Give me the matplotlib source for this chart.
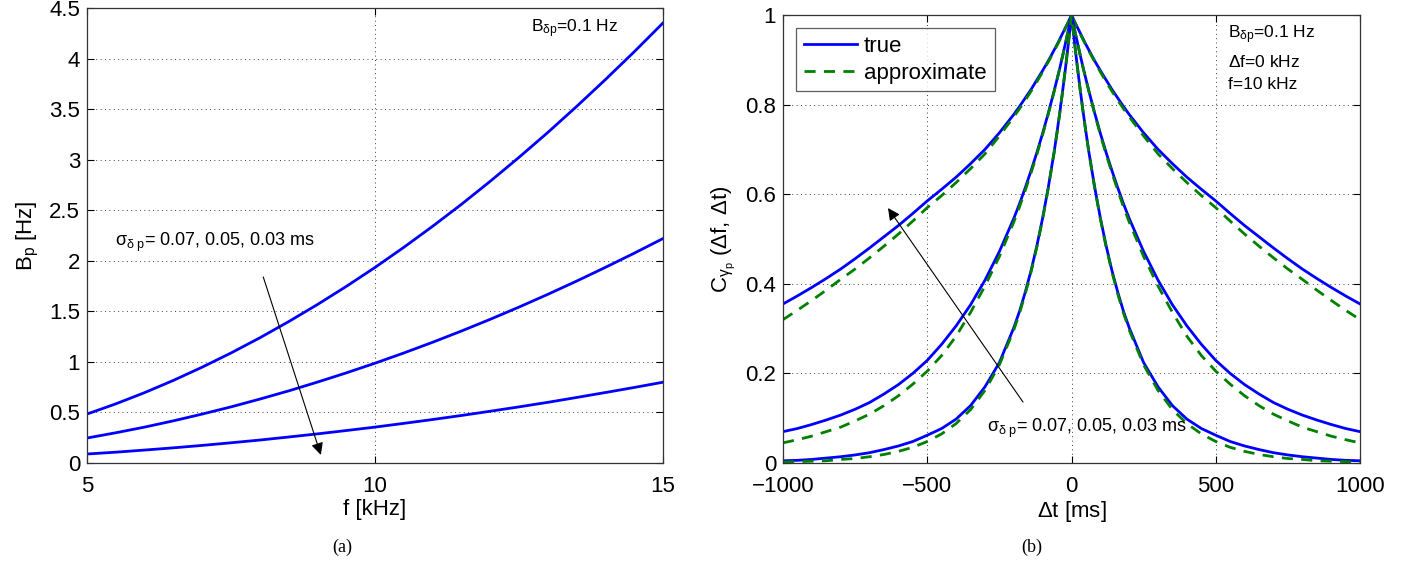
import matplotlib
matplotlib.use('Agg')
import matplotlib.pyplot as plt
import numpy as np

plt.rcParams['font.family'] = ['Liberation Sans', 'DejaVu Sans']
plt.rcParams['mathtext.fontset'] = 'custom'
plt.rcParams['mathtext.rm'] = 'Liberation Sans'
plt.rcParams['mathtext.it'] = 'Liberation Sans'
plt.rcParams['mathtext.default'] = 'regular'

# ---- (a) B_p vs f, sigma = 0.07, 0.05, 0.03 ms ----
f_khz = [5, 5.5, 6, 6.5, 7, 7.5, 8, 8.5, 9, 9.5, 10,
         10.5, 11, 11.5, 12, 12.5, 13, 13.5, 14, 14.5, 15]
bp_007 = [0.484, 0.585, 0.696, 0.817, 0.948, 1.088, 1.238, 1.398, 1.567, 1.746, 1.934,
          2.133, 2.341, 2.558, 2.786, 3.023, 3.269, 3.526, 3.792, 4.067, 4.352]
bp_005 = [0.247, 0.299, 0.355, 0.417, 0.484, 0.555, 0.632, 0.713, 0.800, 0.891, 0.987,
          1.088, 1.194, 1.305, 1.421, 1.542, 1.668, 1.799, 1.935, 2.075, 2.220]
bp_003 = [0.089, 0.107, 0.128, 0.150, 0.174, 0.200, 0.227, 0.257, 0.288, 0.321, 0.355,
          0.392, 0.430, 0.470, 0.512, 0.555, 0.600, 0.648, 0.697, 0.747, 0.799]

# ---- (b) correlation vs delta t (values for dt >= 0, curves are symmetric) ----
dt_ms = [0, 10, 20, 30, 40, 50, 60, 80, 100, 120, 140, 160, 180, 200,
         250, 300, 350, 400, 450, 500, 550, 600, 650, 700, 750, 800, 850, 900, 950, 1000]
true_003 = [1, 0.986, 0.973, 0.960, 0.947, 0.934, 0.922, 0.898, 0.876, 0.855, 0.834,
            0.815, 0.796, 0.778, 0.737, 0.700, 0.668, 0.638, 0.611, 0.585,
            0.557, 0.530, 0.505, 0.480, 0.456, 0.433, 0.412, 0.392, 0.373, 0.355]
appr_003 = [1, 0.986, 0.972, 0.958, 0.945, 0.932, 0.920, 0.896, 0.873, 0.851, 0.830,
            0.810, 0.791, 0.773, 0.730, 0.690, 0.657, 0.626, 0.597, 0.570,
            0.540, 0.511, 0.484, 0.458, 0.433, 0.410, 0.386, 0.363, 0.341, 0.320]
true_005 = [1, 0.969, 0.940, 0.911, 0.883, 0.857, 0.831, 0.782, 0.736, 0.693, 0.653,
            0.615, 0.579, 0.546, 0.472, 0.408, 0.353, 0.306, 0.265, 0.229,
            0.200, 0.175, 0.154, 0.135, 0.120, 0.107, 0.096, 0.086, 0.077, 0.070]
appr_005 = [1, 0.969, 0.940, 0.911, 0.883, 0.856, 0.830, 0.780, 0.733, 0.689, 0.648,
            0.609, 0.572, 0.538, 0.461, 0.395, 0.336, 0.283, 0.240, 0.205,
            0.176, 0.150, 0.128, 0.109, 0.094, 0.080, 0.070, 0.060, 0.052, 0.045]
true_007 = [1, 0.941, 0.886, 0.834, 0.785, 0.739, 0.695, 0.617, 0.547, 0.485, 0.430,
            0.382, 0.339, 0.302, 0.224, 0.170, 0.128, 0.098, 0.077, 0.062,
            0.048, 0.038, 0.030, 0.023, 0.018, 0.014, 0.011, 0.008, 0.006, 0.005]
appr_007 = [1, 0.941, 0.886, 0.833, 0.784, 0.738, 0.694, 0.615, 0.545, 0.482, 0.427,
            0.378, 0.335, 0.297, 0.219, 0.162, 0.119, 0.088, 0.065, 0.048,
            0.035, 0.026, 0.019, 0.014, 0.010, 0.008, 0.005, 0.004, 0.003, 0.002]


def mirror(x, y):
    x = np.asarray(x, float)
    y = np.asarray(y, float)
    return np.concatenate([-x[::-1], x[1:]]), np.concatenate([y[::-1], y[1:]])


BLUE = (0, 0, 1)
GREEN = (0, 0.5, 0)
TICK_FS = 16


def style_axes(ax):
    ax.grid(True, color='0.25', linestyle=(0, (1, 3.5)), linewidth=0.7)
    ax.tick_params(direction='in', top=True, right=True, length=5, width=0.8,
                   labelsize=TICK_FS)
    ax.tick_params(axis='x', pad=9)
    ax.tick_params(axis='y', pad=5)
    for s in ax.spines.values():
        s.set_color('0.2')
        s.set_linewidth(0.9)


fig = plt.figure(figsize=(14.19, 5.62), dpi=100)

# ---------- left panel ----------
ax1 = fig.add_axes([87 / 1419, 99 / 562, 576 / 1419, 455 / 562])
for ys in (bp_007, bp_005, bp_003):
    ax1.plot(f_khz, ys, color=BLUE, linewidth=2.0)
ax1.set_xlim(5, 15)
ax1.set_ylim(0, 4.5)
ax1.set_xticks([5, 10, 15])
ax1.set_yticks(np.arange(0, 4.51, 0.5))
ax1.set_yticklabels(['0', '0.5', '1', '1.5', '2', '2.5', '3', '3.5', '4', '4.5'])
style_axes(ax1)
ax1.set_xlabel('f [kHz]', fontsize=16, labelpad=2)
ax1.set_ylabel('B$_p$ [Hz]', fontsize=16, labelpad=6)
ax1.text(12.7, 4.30, r'B$_{\delta p}$=0.1 Hz', fontsize=12.5, va='center')
ax1.text(5.49, 2.18, r'$\sigma_{\delta\ p}$= 0.07, 0.05, 0.03 ms', fontsize=13, va='center')
ax1.annotate('', xy=(9.06, 0.08), xytext=(8.06, 1.84),
             arrowprops=dict(arrowstyle='-|>', color='k', lw=0.8,
                             mutation_scale=18, shrinkA=0, shrinkB=0))

# ---------- right panel ----------
ax2 = fig.add_axes([783 / 1419, 99 / 562, 577 / 1419, 448 / 562])
first = True
for tv, av in ((true_003, appr_003), (true_005, appr_005), (true_007, appr_007)):
    x, y = mirror(dt_ms, tv)
    ax2.plot(x, y, color=BLUE, linewidth=2.0, label='true' if first else None)
    x, y = mirror(dt_ms, av)
    ax2.plot(x, y, color=GREEN, linewidth=2.0, linestyle=(0, (4, 3)),
             label='approximate' if first else None)
    first = False
ax2.set_xlim(-1000, 1000)
ax2.set_ylim(0, 1)
ax2.set_xticks([-1000, -500, 0, 500, 1000])
ax2.set_yticks([0, 0.2, 0.4, 0.6, 0.8, 1])
ax2.set_yticklabels(['0', '0.2', '0.4', '0.6', '0.8', '1'])
style_axes(ax2)
ax2.set_xlabel(r'$\Delta$t [ms]', fontsize=16, labelpad=2)
ax2.set_ylabel(r'C$_{\gamma_p}$ ($\Delta$f, $\Delta$t)', fontsize=16, labelpad=6)
leg = ax2.legend(loc='upper left', fontsize=16, fancybox=False, edgecolor='0.2',
                 handlelength=2.4, borderaxespad=0.6, handletextpad=0.3,
                 borderpad=0.35, labelspacing=0.25)
leg.get_frame().set_linewidth(0.9)
ax2.text(543, 0.955, r'B$_{\delta p}$=0.1 Hz', fontsize=12.5, va='center')
ax2.text(543, 0.895, r'$\Delta$f=0 kHz', fontsize=12.5, va='center')
ax2.text(543, 0.845, 'f=10 kHz', fontsize=12.5, va='center')
ax2.text(-293, 0.078, r'$\sigma_{\delta\ p}$= 0.07, 0.05, 0.03 ms', fontsize=13, va='center')
ax2.annotate('', xy=(-636, 0.569), xytext=(-168, 0.136),
             arrowprops=dict(arrowstyle='-|>', color='k', lw=0.8,
                             mutation_scale=18, shrinkA=0, shrinkB=0))

fig.text(342 / 1419, 15 / 562, '(a)', family=['Liberation Serif', 'DejaVu Serif'],
         fontsize=13, ha='center', va='center')
fig.text(1032 / 1419, 15 / 562, '(b)', family=['Liberation Serif', 'DejaVu Serif'],
         fontsize=13, ha='center', va='center')

fig.savefig('out.png', dpi=100, facecolor='white')
